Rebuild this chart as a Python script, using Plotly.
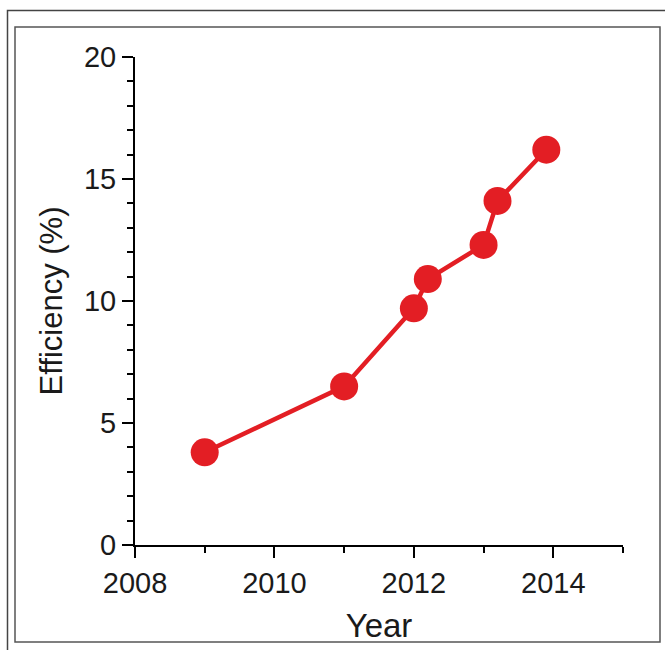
import plotly.graph_objects as go

years = [2009.0, 2011.0, 2012.0, 2012.2, 2013.0, 2013.2, 2013.9]
efficiency = [3.8, 6.5, 9.7, 10.9, 12.3, 14.1, 16.2]
x_ticks = [2008, 2010, 2012, 2014]
y_ticks = [0, 5, 10, 15, 20]

RED = "#e31e24"
FONT = "Liberation Sans, Arial, sans-serif"

fig = go.Figure()
fig.add_trace(go.Scatter(
    x=years, y=efficiency, mode="lines+markers",
    line=dict(color=RED, width=4.5),
    marker=dict(color=RED, size=28),
    showlegend=False,
))

L, R, T, B = 135, 42, 57, 105
W, H = 665, 650
pw, ph = W - L - R, H - T - B

def px(x):
    return (x - L) / pw

def py(y):
    return (H - B - y) / ph

fig.update_layout(
    width=W, height=H,
    margin=dict(l=L, r=R, t=T, b=B, autoexpand=False),
    paper_bgcolor="white", plot_bgcolor="white",
    font=dict(family=FONT, color="#1a1a1a"),
    xaxis=dict(
        range=[2008, 2015], tickvals=x_ticks, ticktext=[str(v) for v in x_ticks],
        showgrid=False, zeroline=False, showline=True, linecolor="black", linewidth=2,
        ticks="outside", ticklen=11, tickwidth=2, tickcolor="black",
        tickfont=dict(size=29, family=FONT, color="#1a1a1a"),
        minor=dict(dtick=1, tick0=2008, ticks="outside", ticklen=6, tickwidth=2, tickcolor="black", showgrid=False),
        title=dict(text="Year", font=dict(size=33, family=FONT, color="#1a1a1a"), standoff=16),
        automargin=False,
    ),
    yaxis=dict(
        range=[0, 20], tickvals=y_ticks, ticktext=[str(v) for v in y_ticks],
        showgrid=False, zeroline=False, showline=True, linecolor="black", linewidth=2,
        ticks="outside", ticklen=11, tickwidth=2, tickcolor="black",
        tickfont=dict(size=29, family=FONT, color="#1a1a1a"),
        minor=dict(dtick=1, tick0=0, ticks="outside", ticklen=6, tickwidth=2, tickcolor="black", showgrid=False),
        title=dict(text="Efficiency (%)", font=dict(size=31, family=FONT, color="#1a1a1a"), standoff=12),
        automargin=False,
    ),
    shapes=[
        dict(type="rect", xref="paper", yref="paper",
             x0=px(7.5), x1=px(672), y0=py(10.5), y1=py(660),
             line=dict(color="#444444", width=1.5), fillcolor="rgba(0,0,0,0)", layer="below"),
        dict(type="rect", xref="paper", yref="paper",
             x0=px(15), x1=px(660), y0=py(27), y1=py(642),
             line=dict(color="#555555", width=1.5), fillcolor="rgba(0,0,0,0)", layer="below"),
    ],
)

fig.write_html("out.html", config={"displayModeBar": False},
               post_script="document.body.style.margin='0';document.body.style.padding='0';")
